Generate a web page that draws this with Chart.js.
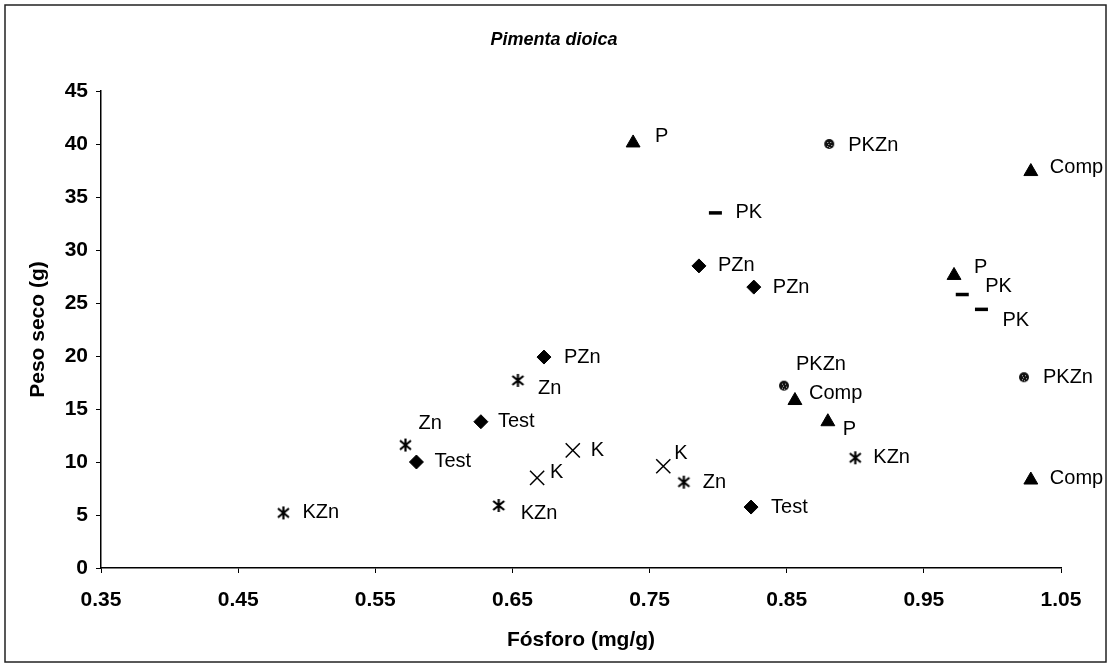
<!DOCTYPE html>
<html>
<head>
<meta charset="utf-8">
<script src="https://cdn.jsdelivr.net/npm/chart.js@4/dist/chart.umd.min.js"></script>
<style>
  html, body { margin: 0; padding: 0; background: #fff; }
  #wrap { position: relative; width: 1108px; height: 668px; }
  canvas { display: block; }
</style>
</head>
<body>
<div id="wrap"><canvas id="c" width="1108" height="668"></canvas></div>
<script>
// ---- Data (Fósforo mg/g vs Peso seco g) ----
const chartTitle = 'Pimenta dioica';
const xAxisTitle = 'Fósforo (mg/g)';
const yAxisTitle = 'Peso seco (g)';
const xTickValues = [0.35, 0.45, 0.55, 0.65, 0.75, 0.85, 0.95, 1.05];
const yTickValues = [0, 5, 10, 15, 20, 25, 30, 35, 40, 45];

const testP = [0.580, 0.627, 0.824];
const testW = [10.0, 13.8, 5.75];
const pznP  = [0.673, 0.786, 0.826];
const pznW  = [19.9, 28.5, 26.5];
const pP    = [0.738, 0.972, 0.880];
const pW    = [40.1, 27.6, 13.8];
const compP = [1.028, 0.856, 1.028];
const compW = [37.4, 15.8, 8.3];
const pkP   = [0.798, 0.978, 0.992];
const pkW   = [33.5, 25.8, 24.4];
const pkznP = [0.881, 0.848, 1.023];
const pkznW = [40.0, 17.2, 18.0];
const kP    = [0.694, 0.668, 0.760];
const kW    = [11.1, 8.5, 9.6];
const znP   = [0.572, 0.654, 0.775];
const znW   = [11.6, 17.7, 8.1];
const kznP  = [0.483, 0.640, 0.900];
const kznW  = [5.2, 5.9, 10.4];

// label nudges (pixels, relative to the marker) – presentation only
const labelNudge = {
  'Test': [[18,-1],[17,0],[20,0]],
  'PZn':  [[20,0],[19,0],[19,0]],
  'P':    [[22,-6],[20,-8],[15,8]],
  'Comp': [[19,-4],[14,-7],[19,-2]],
  'PK':   [[20,0],[23,-8],[21,11]],
  'PKZn': [[19,1],[12,-21],[19,0]],
  'K':    [[18,0],[13,-5],[11,-13]],
  'Zn':   [[13,-22],[20,8],[19,0]],
  'KZn':  [[19,0],[22,8],[18,0]]
};

function pts(xs, ys) { return xs.map((x, i) => ({ x: x, y: ys[i] })); }

// custom marker images
function asteriskImg() {
  const c = document.createElement('canvas');
  c.width = 15; c.height = 15;
  const g = c.getContext('2d');
  g.strokeStyle = '#000'; g.lineWidth = 2.2;
  g.beginPath();
  g.moveTo(7.5, 1); g.lineTo(7.5, 14);
  g.moveTo(2, 3); g.lineTo(13, 12);
  g.moveTo(13, 3); g.lineTo(2, 12);
  g.stroke();
  return c;
}
function hatchedCircleImg() {
  const c = document.createElement('canvas');
  c.width = 12; c.height = 12;
  const g = c.getContext('2d');
  g.fillStyle = '#111';
  g.beginPath(); g.arc(6, 6, 5, 0, Math.PI * 2); g.fill();
  g.fillStyle = '#bbb';
  [[4,4],[7,4],[5,6],[8,7],[4,8],[6,9]].forEach(p => g.fillRect(p[0], p[1], 1, 1));
  return c;
}
const ast = asteriskImg();
const hcirc = hatchedCircleImg();

const base = { showLine: false, clip: false, borderColor: '#000', backgroundColor: '#000' };
const datasets = [
  Object.assign({}, base, { label: 'Test', data: pts(testP, testW), pointStyle: 'rectRot', pointRadius: 7, borderWidth: 1 }),
  Object.assign({}, base, { label: 'PZn',  data: pts(pznP, pznW),  pointStyle: 'rectRot', pointRadius: 7, borderWidth: 1 }),
  Object.assign({}, base, { label: 'P',    data: pts(pP, pW),      pointStyle: 'triangle', pointRadius: 8, borderWidth: 1 }),
  Object.assign({}, base, { label: 'Comp', data: pts(compP, compW), pointStyle: 'triangle', pointRadius: 8, borderWidth: 1 }),
  Object.assign({}, base, { label: 'PK',   data: pts(pkP, pkW),    pointStyle: 'line', pointRadius: 6.5, borderWidth: 3.5 }),
  Object.assign({}, base, { label: 'PKZn', data: pts(pkznP, pkznW), pointStyle: hcirc, pointRadius: 6 }),
  Object.assign({}, base, { label: 'K',    data: pts(kP, kW),      pointStyle: 'crossRot', pointRadius: 10, borderWidth: 1.5 }),
  Object.assign({}, base, { label: 'Zn',   data: pts(znP, znW),    pointStyle: ast, pointRadius: 7 }),
  Object.assign({}, base, { label: 'KZn',  data: pts(kznP, kznW),  pointStyle: ast, pointRadius: 7 })
];

const pointLabels = {
  id: 'pointLabels',
  afterDatasetsDraw(chart) {
    const ctx = chart.ctx;
    ctx.save();
    ctx.fillStyle = '#000';
    ctx.font = '20px "Liberation Sans", Arial, sans-serif';
    ctx.textAlign = 'left';
    ctx.textBaseline = 'middle';
    chart.data.datasets.forEach((ds, di) => {
      const meta = chart.getDatasetMeta(di);
      const nudges = labelNudge[ds.label] || [];
      meta.data.forEach((el, i) => {
        const n = nudges[i] || [18, 0];
        ctx.fillText(ds.label, el.x + n[0], el.y + n[1]);
      });
    });
    ctx.restore();
  }
};

const frameAndTitle = {
  id: 'frameAndTitle',
  beforeDraw(chart) {
    const ctx = chart.ctx;
    ctx.save();
    ctx.fillStyle = '#fff';
    ctx.fillRect(0, 0, chart.width, chart.height);
    ctx.restore();
  },
  afterDraw(chart) {
    const ctx = chart.ctx;
    ctx.save();
    ctx.strokeStyle = '#222';
    ctx.lineWidth = 1.5;
    ctx.strokeRect(5, 5, 1101, 657);
    ctx.fillStyle = '#000';
    ctx.font = 'italic bold 18px "Liberation Sans", Arial, sans-serif';
    ctx.textAlign = 'center';
    ctx.textBaseline = 'middle';
    ctx.fillText(chartTitle, 554, 40);
    ctx.restore();
  }
};

new Chart(document.getElementById('c'), {
  type: 'scatter',
  data: { datasets: datasets },
  plugins: [frameAndTitle, pointLabels],
  options: {
    responsive: false,
    animation: false,
    devicePixelRatio: 1,
    layout: { padding: { left: 0, right: 47, top: 91, bottom: 0 } },
    plugins: { legend: { display: false }, tooltip: { enabled: false }, title: { display: false } },
    scales: {
      x: {
        type: 'linear',
        min: 0.35, max: 1.05,
        afterBuildTicks(scale) { scale.ticks = xTickValues.map(v => ({ value: v })); },
        afterFit(scale) { scale.height = 100; },
        ticks: {
          color: '#000',
          padding: 15,
          font: { family: '"Liberation Sans", Arial, sans-serif', size: 21, weight: 'bold' },
          callback: v => Number(v).toFixed(2)
        },
        grid: { display: true, drawOnChartArea: false, drawTicks: true, tickLength: 5, color: '#000', lineWidth: 1 },
        border: { display: true, color: '#000', width: 1.5 },
        title: {
          display: true, text: xAxisTitle, color: '#000',
          font: { family: '"Liberation Sans", Arial, sans-serif', size: 21, weight: 'bold' },
          padding: { top: 0, bottom: 15 }
        }
      },
      y: {
        type: 'linear',
        min: 0, max: 45,
        afterBuildTicks(scale) { scale.ticks = yTickValues.map(v => ({ value: v })); },
        afterFit(scale) { scale.width = 101; },
        ticks: {
          color: '#000',
          padding: 8,
          font: { family: '"Liberation Sans", Arial, sans-serif', size: 21, weight: 'bold' }
        },
        grid: { display: true, drawOnChartArea: false, drawTicks: true, tickLength: 5, color: '#000', lineWidth: 1 },
        border: { display: true, color: '#000', width: 1.5 },
        title: {
          display: true, text: yAxisTitle, color: '#000',
          font: { family: '"Liberation Sans", Arial, sans-serif', size: 21, weight: 'bold' },
          padding: { top: 26, bottom: 0 }
        }
      }
    }
  }
});
</script>
</body>
</html>
